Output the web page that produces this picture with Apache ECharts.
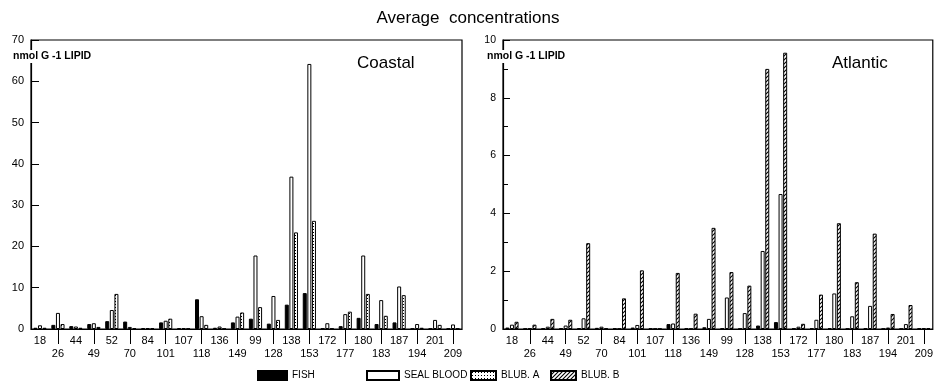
<!DOCTYPE html>
<html>
<head>
<meta charset="utf-8">
<script src="https://cdn.jsdelivr.net/npm/echarts@6/dist/echarts.min.js"></script>
<style>
html,body{margin:0;padding:0;background:#fff;}
#chart{width:936px;height:387px;}
</style>
</head>
<body>
<div id="chart"></div>
<script>
// ---- data ----
var categories = ['18','26','44','49','52','70','84','101','107','118','136','149','99','128','138','153','172','177','180','183','187','194','201','209'];

var coastalFish  = [0.3, 1.0, 0.7, 1.2, 1.9, 1.8, 0.2, 1.6, 0.2, 7.2, 0.3, 1.6, 2.5, 1.3, 5.9, 8.7, 0.1, 0.7, 2.7, 1.2, 1.6, 0.1, 0.1, 0.1];
var coastalSeal  = [0.9, 3.9, 0.6, 1.4, 4.6, 0.5, 0.2, 2.0, 0.2, 3.1, 0.6, 3.0, 17.8, 8.0, 36.9, 64.2, 1.4, 3.6, 17.8, 7.0, 10.3, 1.2, 2.2, 1.1];
var coastalBlubA = [0.3, 1.2, 0.3, 0.5, 8.5, 0.2, 0.2, 2.5, 0.1, 1.0, 0.1, 4.0, 5.3, 2.2, 23.4, 26.2, 0.1, 4.2, 8.5, 3.2, 8.2, 0.3, 1.0, 0.1];

var atlanticFish  = [0.05, 0.01, 0.02, 0.02, 0.03, 0.04, 0.02, 0.05, 0.02, 0.17, 0.02, 0.06, 0.02, 0.01, 0.12, 0.24, 0.02, 0.02, 0.03, 0.01, 0.02, 0.01, 0.01, 0.02];
var atlanticSeal  = [0.15, 0.02, 0.08, 0.12, 0.37, 0.08, 0.01, 0.14, 0.01, 0.19, 0.01, 0.35, 1.09, 0.55, 2.7, 4.67, 0.08, 0.32, 1.23, 0.44, 0.8, 0.05, 0.17, 0.03];
var atlanticBlubB = [0.25, 0.15, 0.35, 0.32, 2.97, 0.02, 1.06, 2.03, 0.01, 1.94, 0.53, 3.5, 1.97, 1.5, 9.0, 9.56, 0.18, 1.19, 3.66, 1.62, 3.3, 0.52, 0.83, 0.03];

var coastalTicks = [0, 10, 20, 30, 40, 50, 60, 70];
var atlanticTicks = [0, 2, 4, 6, 8, 10];

var seriesNames = ['FISH', 'SEAL BLOOD', 'BLUB. A', 'BLUB. B'];
var unitLabel = 'nmol G -1 LIPID';

// ---- patterns ----
function dotPattern() {
  var c = document.createElement('canvas');
  c.width = 3; c.height = 3;
  var g = c.getContext('2d');
  g.fillStyle = '#fff'; g.fillRect(0, 0, 3, 3);
  g.fillStyle = '#000'; g.fillRect(1, 1, 1, 1);
  return { image: c, repeat: 'repeat' };
}
function hatchPattern() {
  var c = document.createElement('canvas');
  c.width = 4; c.height = 4;
  var g = c.getContext('2d');
  g.fillStyle = '#fff'; g.fillRect(0, 0, 4, 4);
  g.strokeStyle = '#000'; g.lineWidth = 1.1;
  g.beginPath();
  g.moveTo(-1, 5); g.lineTo(5, -1);
  g.moveTo(-1, 1); g.lineTo(1, -1);
  g.moveTo(3, 5); g.lineTo(5, 3);
  g.stroke();
  return { image: c, repeat: 'repeat' };
}

var FONT = '"Liberation Sans", Arial, Helvetica, sans-serif';
var styles = {
  'FISH': { color: '#000', borderColor: '#000', borderWidth: 1 },
  'SEAL BLOOD': { color: '#fff', borderColor: '#000', borderWidth: 1 },
  'BLUB. A': { color: dotPattern(), borderColor: '#000', borderWidth: 1 },
  'BLUB. B': { color: hatchPattern(), borderColor: '#000', borderWidth: 1 }
};

function xAxisFor(gridIndex) {
  return {
    type: 'category', gridIndex: gridIndex, data: categories,
    axisLine: { lineStyle: { color: '#000', width: 1.2 } },
    axisTick: { show: true, alignWithLabel: true, length: 15,
      interval: function (i) { return i % 2 === 1; },
      lineStyle: { color: '#000', width: 1 } },
    axisLabel: { interval: 0, margin: 5, color: '#000', fontSize: 11, fontFamily: FONT, lineHeight: 13,
      formatter: function (v, i) { return i % 2 === 1 ? '\n' + v : v; } },
    splitLine: { show: false }
  };
}

function barSeries(name, data, xi, yi) {
  return {
    type: 'bar', name: name, xAxisIndex: xi, yAxisIndex: yi, data: data,
    barWidth: 4, barGap: '15%', itemStyle: styles[name],
    emphasis: { disabled: true }, animation: false
  };
}

function legendFor(name, left, w) {
  return {
    data: [name], left: left, top: 370, padding: 0, itemWidth: w, itemHeight: 9, itemGap: 0,
    icon: 'rect', selectedMode: false,
    textStyle: { color: '#000', fontSize: 10, fontFamily: FONT }
  };
}

var option = {
  backgroundColor: '#fff',
  animation: false,
  title: {
    text: 'Average  concentrations', left: 'center', top: 5,
    textStyle: { color: '#000', fontSize: 17, fontWeight: 'normal', fontFamily: FONT }
  },
  legend: [
    legendFor('FISH', 257, 29),
    legendFor('SEAL BLOOD', 366, 32),
    legendFor('BLUB. A', 470, 25),
    legendFor('BLUB. B', 550, 25)
  ],
  grid: [
    { left: 31, right: 474, top: 40, bottom: 58, show: true, borderColor: '#000', borderWidth: 1.2, backgroundColor: 'transparent' },
    { left: 503, right: 3, top: 40, bottom: 58, show: true, borderColor: '#000', borderWidth: 1.2, backgroundColor: 'transparent' }
  ],
  xAxis: [xAxisFor(0), xAxisFor(1)],
  yAxis: [
    {
      type: 'value', gridIndex: 0, min: coastalTicks[0], max: coastalTicks[coastalTicks.length - 1], interval: 10,
      axisLine: { show: true, lineStyle: { color: '#000', width: 1.2 } },
      axisTick: { show: true, inside: true, length: 8, lineStyle: { color: '#000' } },
      axisLabel: { color: '#000', fontSize: 11, fontFamily: FONT, margin: 7 },
      splitLine: { show: false }
    },
    {
      type: 'value', gridIndex: 1, min: atlanticTicks[0], max: atlanticTicks[atlanticTicks.length - 1], interval: 2,
      axisLine: { show: true, lineStyle: { color: '#000', width: 1.2 } },
      axisTick: { show: true, inside: true, length: 7, lineStyle: { color: '#000' } },
      minorTick: { show: true, splitNumber: 2, length: 5, lineStyle: { color: '#000' } },
      axisLabel: { color: '#000', fontSize: 10.5, fontFamily: FONT, margin: 7 },
      splitLine: { show: false }
    }
  ],
  graphic: [
    { type: 'text', left: 12, top: 50, z: 100, style: { text: unitLabel, fill: '#000', font: 'bold 10.5px ' + FONT, backgroundColor: '#fff', padding: [1, 1, 1, 1] } },
    { type: 'text', left: 486, top: 50, z: 100, style: { text: unitLabel, fill: '#000', font: 'bold 10.5px ' + FONT, backgroundColor: '#fff', padding: [1, 1, 1, 1] } },
    { type: 'text', left: 357, top: 55, style: { text: 'Coastal', fill: '#000', font: '17px ' + FONT } },
    { type: 'text', left: 832, top: 55, style: { text: 'Atlantic', fill: '#000', font: '17px ' + FONT } }
  ],
  series: [
    barSeries('FISH', coastalFish, 0, 0),
    barSeries('SEAL BLOOD', coastalSeal, 0, 0),
    barSeries('BLUB. A', coastalBlubA, 0, 0),
    barSeries('FISH', atlanticFish, 1, 1),
    barSeries('SEAL BLOOD', atlanticSeal, 1, 1),
    barSeries('BLUB. B', atlanticBlubB, 1, 1)
  ]
};

var chart = echarts.init(document.getElementById('chart'), null, { renderer: 'canvas' });
chart.setOption(option);
</script>
</body>
</html>
